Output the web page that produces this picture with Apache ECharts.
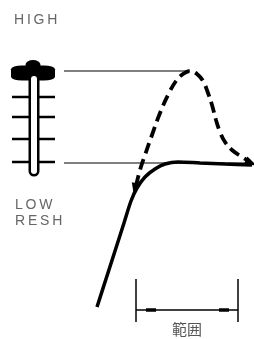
<!DOCTYPE html>
<html>
<head>
<meta charset="utf-8">
<script src="https://cdn.jsdelivr.net/npm/echarts@6/dist/echarts.min.js"></script>
<style>
  html, body { margin: 0; padding: 0; background: #fff; }
  #chart { width: 254px; height: 339px; }
</style>
</head>
<body>
<div id="chart"></div>
<script>
// diagram coordinates (x right, y down)
const tickY = [97, 117, 139, 162];
const tickX = [12, 55];
const stem = [[34, 79], [34, 171]];
const knobBody = [33, 73];
const knobBump = [33, 65];
const refTop = [[64, 71], [190, 71]];
const refBottom = [[64, 163], [252, 163]];
const dashedCurve = [
  [136, 186], [140, 170], [145, 155], [152, 135], [160, 113], [168, 95],
  [176, 81], [183, 74], [190, 71], [197, 74], [203, 81], [208, 93],
  [212, 105], [216, 120], [220, 132], [225, 142], [232, 150], [242, 157], [250, 162]
];
const solidCurve = [
  [97, 307], [106, 279], [115, 251], [124, 223], [131, 201], [137, 188],
  [145, 177], [155, 169], [165, 164], [178, 162], [200, 163], [225, 164], [252, 165]
];
const arrowStart = [135, 189];
const arrowEnd = [251, 163];
const bracketLeft = [[136, 279], [136, 322]];
const bracketRight = [[238, 279], [238, 322]];
const bracketBar = [[136, 310], [238, 310]];
const bracketMarks = [[[146, 310], [156, 310]], [[219, 310], [229, 310]]];

const labelHigh = 'H\u2009I\u2009G\u2009H';
const labelLow = 'L\u2009O\u2009W';
const labelRes = 'R\u2009E\u2009S\u2009H';
const labelRange = '範囲';

function seg(data, width, color, extra) {
  return Object.assign({
    type: 'line', data: data, symbol: 'none', silent: true,
    lineStyle: { width: width, color: color || '#000' }
  }, extra || {});
}

function dot(point, symbol, size, rotate) {
  return {
    type: 'scatter', silent: true, data: [point], symbol: symbol,
    symbolSize: size, symbolRotate: rotate || 0,
    itemStyle: { color: '#000', opacity: 1 }
  };
}

const series = [];
tickY.forEach(function (y) {
  series.push(seg([[tickX[0], y], [tickX[1], y]], 2.5));
});
series.push(seg(stem, 11, '#000', { lineStyle: { width: 11, color: '#000', cap: 'round' } }));
series.push(seg(stem, 6, '#fff', { lineStyle: { width: 6, color: '#fff', cap: 'round' } }));
series.push(dot(knobBody, 'roundRect', [44, 15]));
series.push(dot(knobBump, 'circle', [15, 10]));
series.push(seg(refTop, 1.2));
series.push(seg(refBottom, 1.2));
series.push(seg(dashedCurve, 3.5, '#000', {
  smooth: 0.4,
  lineStyle: { width: 3.8, color: '#000', type: [11, 6] }
}));
series.push(seg(solidCurve, 3.5, '#000', { smooth: 0.3 }));
series.push(dot(arrowStart, 'triangle', [9, 12], 168));
series.push(dot(arrowEnd, 'triangle', [9, 12], 245));
series.push(seg(bracketLeft, 1.5));
series.push(seg(bracketRight, 1.5));
series.push(seg(bracketBar, 1.5));
bracketMarks.forEach(function (m) {
  series.push(seg(m, 3.5));
});

const textStyle = { fill: '#666', fontSize: 14, fontFamily: 'Liberation Sans' };
const option = {
  animation: false,
  grid: { left: 0, right: 0, top: 0, bottom: 0 },
  xAxis: { type: 'value', min: 0, max: 254, show: false },
  yAxis: { type: 'value', min: 0, max: 339, inverse: true, show: false },
  graphic: [
    { type: 'text', left: 14, top: 13, style: Object.assign({ text: labelHigh }, textStyle) },
    { type: 'text', left: 15, top: 198, style: Object.assign({ text: labelLow }, textStyle) },
    { type: 'text', left: 15, top: 214, style: Object.assign({ text: labelRes }, textStyle) },
    { type: 'text', left: 172, top: 322, style: { text: labelRange, fill: '#555', fontSize: 15, fontFamily: 'Noto Sans CJK JP' } }
  ],
  series: series
};

const chart = echarts.init(document.getElementById('chart'));
chart.setOption(option);
</script>
</body>
</html>
